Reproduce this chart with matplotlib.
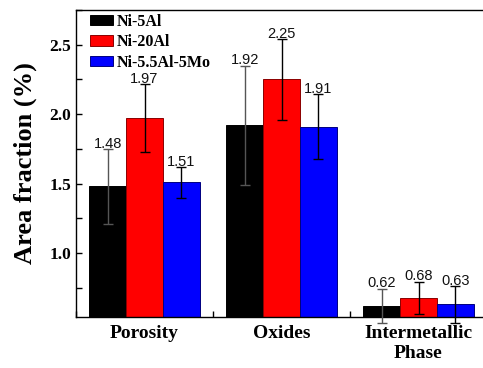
import matplotlib
matplotlib.use("Agg")
import matplotlib.pyplot as plt
import numpy as np
from matplotlib.ticker import MultipleLocator

categories = ["Porosity", "Oxides", "Intermetallic\nPhase"]
series_names = ["Ni-5Al", "Ni-20Al", "Ni-5.5Al-5Mo"]
ni5al = [1.48, 1.92, 0.62]
ni20al = [1.97, 2.25, 0.68]
ni55al5mo = [1.51, 1.91, 0.63]
ni5al_err = [0.27, 0.43, 0.125]
ni20al_err = [0.245, 0.29, 0.115]
ni55al5mo_err = [0.11, 0.235, 0.135]
value_labels = [["1.48", "1.92", "0.62"], ["1.97", "2.25", "0.68"], ["1.51", "1.91", "0.63"]]

values = [ni5al, ni20al, ni55al5mo]
errors = [ni5al_err, ni20al_err, ni55al5mo_err]
colors = ["#000000", "#ff0000", "#0000ff"]
edgecolors = ["#000000", "#8b0000", "#000080"]
errcolors = ["#555555", "#000000", "#000000"]

serif = ["Liberation Serif", "DejaVu Serif"]
sans = ["Liberation Sans", "DejaVu Sans"]

fig = plt.figure(figsize=(4.83, 3.68), dpi=100)
ax = fig.add_axes([76/483, 51/368, 411/483, 307/368])

x = np.arange(len(categories))
w = 0.268
for i in range(3):
    xs = x + (i - 1) * w
    ax.bar(xs, values[i], width=w, bottom=0, color=colors[i], edgecolor=edgecolors[i],
           linewidth=0.7, label=series_names[i], zorder=2)
    eb = ax.errorbar(xs, values[i], yerr=errors[i], fmt="none", ecolor=errcolors[i],
                     elinewidth=1.0, capsize=3.5, capthick=1.0, zorder=3)
    for artist in eb.lines[1] + eb.lines[2]:
        artist.set_clip_on(False)
    for xv, v, e, lab in zip(xs, values[i], errors[i], value_labels[i]):
        ax.annotate(lab, (xv, v + e), xytext=(0, 0.8), textcoords="offset points",
                    ha="center", va="baseline", fontsize=10.5, family=sans, color="#111111")

ax.set_xlim(-0.5, 2.5)
ax.set_ylim(0.54, 2.75)
ax.set_xticks(x)
ax.set_xticklabels(categories, fontsize=14, fontweight="bold", family=serif)
ax.xaxis.set_minor_locator(MultipleLocator(0.5))
ax.yaxis.set_minor_locator(MultipleLocator(0.25))
ax.set_yticks([1.0, 1.5, 2.0, 2.5])
ax.set_yticklabels(["1.0", "1.5", "2.0", "2.5"], fontsize=12.5, fontweight="bold", family=serif)
ax.tick_params(axis="both", which="major", direction="in", length=4, width=1)
ax.tick_params(axis="both", which="minor", direction="in", length=4, width=1)
ax.tick_params(axis="x", pad=6)
ax.set_ylabel("Area fraction (%)", fontsize=19, fontweight="bold", family=serif, labelpad=9)
for s in ax.spines.values():
    s.set_linewidth(1.0)

leg = ax.legend(loc="upper left", frameon=False, prop={"family": serif, "weight": "bold", "size": 11.5},
                handlelength=1.45, handleheight=0.6, handletextpad=0.2, labelspacing=0.28,
                borderaxespad=0.0, borderpad=0.0, bbox_to_anchor=(0.034, 0.988))

fig.savefig("out.png", dpi=100)
